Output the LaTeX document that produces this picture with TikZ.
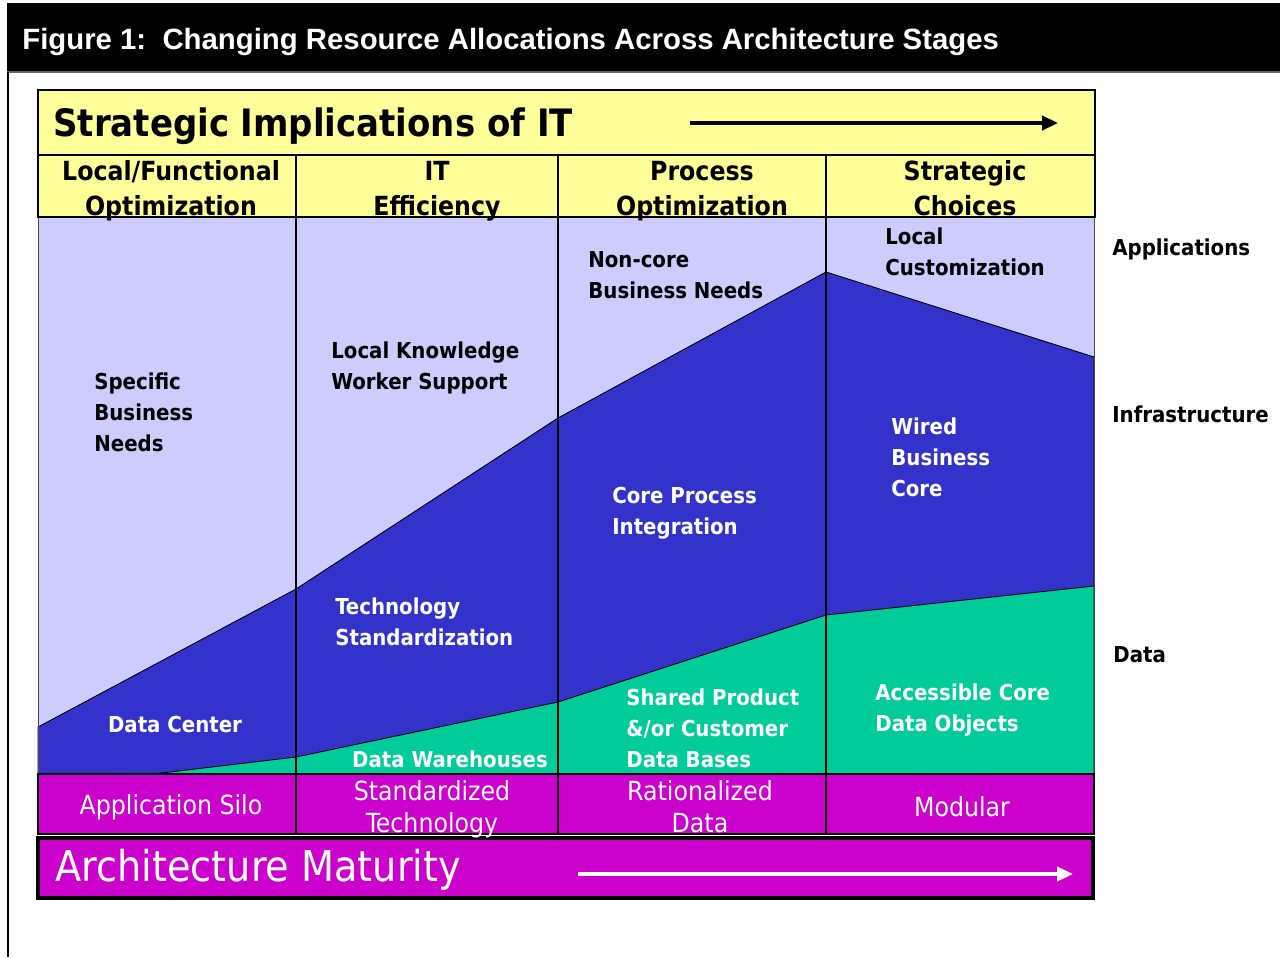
\documentclass[tikz,border=0pt]{standalone}
\usepackage{fontspec}
\usepackage{tikz}
\usetikzlibrary{arrows.meta}
\setmainfont{DejaVu Sans Condensed}
\newfontfamily\headfont{Liberation Sans}
\definecolor{apps}{RGB}{204,204,255}
\definecolor{infra}{RGB}{51,51,204}
\definecolor{datalayer}{RGB}{0,204,153}
\definecolor{maturity}{RGB}{204,0,204}
\definecolor{strategy}{RGB}{255,255,153}

\begin{document}
\begin{tikzpicture}[
    x=.02cm, y=-.02cm,
    label/.style={font=\bfseries\fontsize{12.5}{17.6}\selectfont, align=left,
        anchor=west, inner sep=0pt},
    darklabel/.style={label, text=black},
    lightlabel/.style={label, text=white},
    stage/.style={font=\bfseries\fontsize{15}{20.3}\selectfont, align=center,
        inner sep=0pt},
    level/.style={font=\fontsize{15}{18}\selectfont, align=center,
        text=white, inner sep=0pt},
    divider/.style={draw=black, line width=1.4pt},
    boundary/.style={draw=black, line width=.5pt},
]
    \useasboundingbox (0, 0) rectangle (1280, 957);

    %% the caption bar and the frame on the left
    \fill[black] (7, 3) rectangle (1280, 71);
    \draw[black!60, line width=.8pt] (7, 72) -- (1280, 72);
    \draw[black, line width=1.1pt] (8, 72) -- (8, 957);
    \node[anchor=west, text=white, inner sep=0pt,
        font=\headfont\bfseries\fontsize{16.7}{20}\selectfont] (caption)
        at (22, 42) {Figure 1:\ \ Changing Resource Allocations Across
        Architecture Stages};

    %% the three layers
    \fill[apps] (38, 217) rectangle (1094, 774);
    \filldraw[fill=infra, boundary] (38, 727) -- (296, 589) -- (558, 418)
        -- (826, 272) -- (1094, 357) -- (1094, 774) -- (38, 774) -- cycle;
    \filldraw[fill=datalayer, boundary] (153, 774) -- (296, 757)
        -- (558, 702) -- (826, 615) -- (1094, 586) -- (1094, 774) -- cycle;
    \draw[black!70, line width=.5pt] (38, 217) -- (38, 774)
        (1094, 217) -- (1094, 774);

    %% the strategic implications, with the stages below
    \filldraw[fill=strategy, draw=black, line width=.8pt] (38, 90)
        rectangle (1095, 155);
    \filldraw[fill=strategy, draw=black, line width=.8pt] (38, 155)
        rectangle (1095, 217);
    \node[anchor=west, inner sep=0pt,
        font=\bfseries\fontsize{21.5}{24}\selectfont] (implications)
        at (53, 126) {Strategic Implications of IT};
    \coordinate (imp tail) at (690, 123);
    \coordinate (imp head) at (1058, 123);
    \draw[line width=2pt, -{Triangle[length=9pt, width=8pt]}] (imp tail)
        -- (imp head);
    \foreach \x/\t [count=\i] in {171/{Local/Functional\\Optimization},
            437/{IT\\Efficiency}, 702/{Process\\Optimization},
            965/{Strategic\\Choices}}
        \node[stage] (stage\i) at (\x, 191) {\strut\t\strut};

    %% the architecture levels
    \fill[maturity] (38, 774) rectangle (1094, 834);
    \draw[black, line width=1.4pt] (38, 774) rectangle (1094, 834);
    \filldraw[fill=maturity, draw=black, line width=2pt] (38, 838)
        rectangle (1093, 898);
    \foreach \x/\t [count=\i] in {432/{Standardized\\Technology},
            700/{Rationalized\\Data}}
        \node[level] (level\i) at (\x, 810) {\strut\t\strut};
    \node[level] (silo) at (171, 807) {Application Silo};
    \node[level] (modular) at (962, 807) {Modular};
    \node[anchor=west, text=white, inner sep=0pt,
        font=\fontsize{24.2}{28}\selectfont] (maturity) at (55, 870)
        {Architecture Maturity};
    \coordinate (mat tail) at (578, 874);
    \coordinate (mat head) at (1073, 874);
    \draw[white, line width=2pt, -{Triangle[length=9pt, width=8pt]}]
        (mat tail) -- (mat head);

    %% column dividers
    \foreach \x in {296, 558, 826}
        \draw[divider] (\x, 155) -- (\x, 834);

    %% what each stage spends its resources on
    \node[darklabel] (specific) at (94, 412)
        {Specific\\Business\\Needs};
    \node[lightlabel, anchor=center] (centre) at (175, 724) {Data Center};
    \node[darklabel] (knowledge) at (331, 368)
        {Local Knowledge\\Worker Support};
    \node[lightlabel] (techstd) at (335, 622)
        {Technology\\Standardization};
    \node[lightlabel, anchor=center] (warehouses) at (450, 759)
        {Data Warehouses};
    \node[darklabel] (noncore) at (588, 275) {Non-core\\Business Needs};
    \node[lightlabel] (coreproc) at (612, 513)
        {Core Process\\Integration};
    \node[lightlabel] (shared) at (626, 728)
        {Shared Product\\\&/or Customer\\Data Bases};
    \node[darklabel] (custom) at (885, 252) {Local\\Customization};
    \node[lightlabel] (wired) at (891, 457) {Wired\\Business\\Core};
    \node[lightlabel] (objects) at (875, 710)
        {Accessible Core\\Data Objects};

    %% layer names on the right
    \node[darklabel] (applications) at (1112, 249) {Applications};
    \node[darklabel] (infrastructure) at (1112, 414) {Infrastructure};
    \node[darklabel] (data) at (1113, 655) {Data};
\end{tikzpicture}
\end{document}
